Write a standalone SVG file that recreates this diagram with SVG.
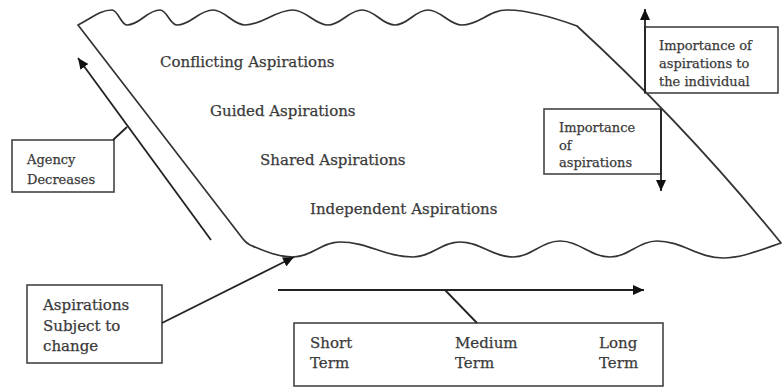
<svg xmlns="http://www.w3.org/2000/svg" width="783" height="389" viewBox="0 0 783 389">
<style>
.t{font-family:"DejaVu Serif","Liberation Serif",serif;fill:#3a3a3a;stroke:#3a3a3a;stroke-width:0.25}
.big{font-size:15px}
.sm{font-size:13px}
.box{fill:none;stroke:#444;stroke-width:1.6}
.ln{fill:none;stroke:#222;stroke-width:1.8}
.shape{fill:none;stroke:#333;stroke-width:1.7;stroke-linejoin:round}
</style>
<defs>
<marker id="ah" markerUnits="userSpaceOnUse" markerWidth="12" markerHeight="10" refX="11" refY="5" orient="auto">
<path d="M0,0 L11,5 L0,10 z" fill="#111"/>
</marker>
</defs>
<rect width="783" height="389" fill="#fff"/>
<g id="field">
<path class="shape" d="M78,25 C92,18 100,10 112,10 C118,10 121,25 127,25 C140,25 147,10 160,10 C167,10 170,25 177,25 C191,25 199,10 213,10 C225,10 233,25 245,25 C263,25 275,10 293,10 C306,10 315,25 328,25 C341,25 349,10 362,10 C375,10 382,25 395,25 C408,25 415,10 428,10 C441,10 449,25 462,25 C479,25 489,10 507,10 C530,10 555,18 577,26 Q686,126 781,243 C755,252 740,258 723,258 C698,258 682,241 657,241 C639,241 628,257 610,257 C591,257 579,241 560,241 C542,241 531,257 513,257 C493,257 480,242 460,242 C442,242 431,257 413,257 C385,257 368,242 340,242 C322,242 311,257 293,257 C277,257 262,250 250,245 Q245,242 243,239 Z"/>
<text class="t big" x="160" y="67">Conflicting Aspirations</text>
<text class="t big" x="210" y="116">Guided Aspirations</text>
<text class="t big" x="260" y="165">Shared Aspirations</text>
<text class="t big" x="310" y="214">Independent Aspirations</text>
</g>
<g id="agency">
<rect class="box" x="12" y="140" width="102" height="52"/>
<text class="t sm" x="27" y="164">Agency</text>
<text class="t sm" x="27" y="184">Decreases</text>
</g>
<g id="subject">
<rect class="box" x="27" y="285" width="135" height="78"/>
<text class="t big" x="43" y="310">Aspirations</text>
<text class="t big" x="43" y="331">Subject to</text>
<text class="t big" x="43" y="351">change</text>
</g>
<g id="terms">
<rect class="box" x="294" y="323" width="369" height="63"/>
<text class="t big" x="310" y="348">Short</text>
<text class="t big" x="310" y="368">Term</text>
<text class="t big" x="455" y="348">Medium</text>
<text class="t big" x="455" y="368">Term</text>
<text class="t big" x="599" y="348">Long</text>
<text class="t big" x="599" y="368">Term</text>
</g>
<g id="importance-individual">
<rect class="box" x="645" y="27" width="133" height="66"/>
<text class="t sm" x="659" y="50">Importance of</text>
<text class="t sm" x="659" y="68">aspirations to</text>
<text class="t sm" x="659" y="86">the individual</text>
</g>
<g id="importance">
<rect class="box" x="544" y="109" width="117" height="65"/>
<text class="t sm" x="559" y="132">Importance</text>
<text class="t sm" x="559" y="150">of</text>
<text class="t sm" x="559" y="167">aspirations</text>
</g>
<g id="connectors">
<line class="ln" x1="211" y1="240" x2="78" y2="58" marker-end="url(#ah)"/>
<line class="ln" x1="113" y1="140" x2="127" y2="127"/>
<line class="ln" x1="162" y1="323" x2="294" y2="257" marker-end="url(#ah)"/>
<line class="ln" x1="278" y1="290" x2="644" y2="290" marker-end="url(#ah)"/>
<line class="ln" x1="445" y1="290" x2="477" y2="323"/>
<line class="ln" x1="645" y1="93" x2="645" y2="9" marker-end="url(#ah)"/>
<line class="ln" x1="661" y1="109" x2="661" y2="191" marker-end="url(#ah)"/>
</g>
</svg>
